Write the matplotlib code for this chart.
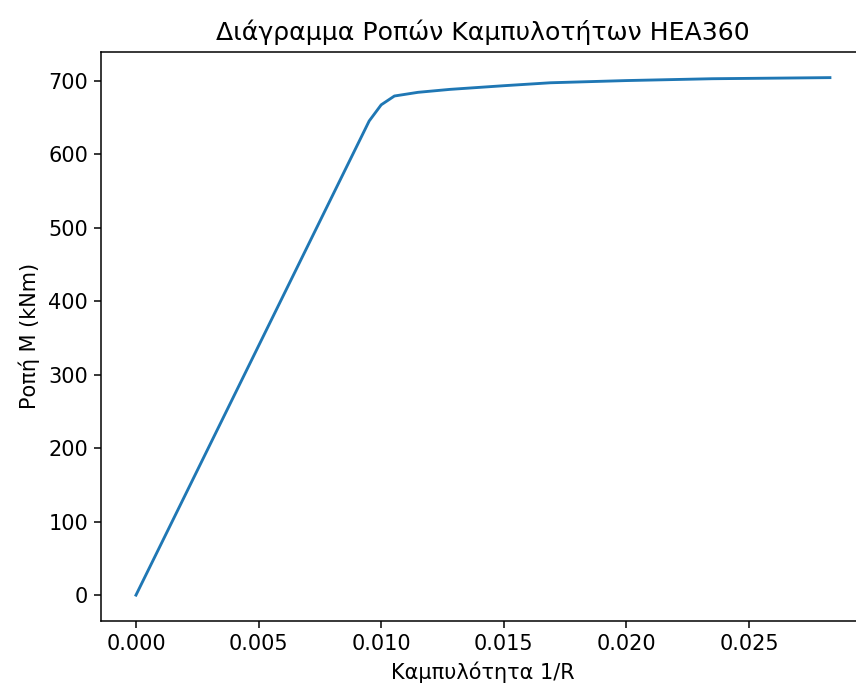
import matplotlib
matplotlib.use("Agg")
import matplotlib.pyplot as plt

# moment-curvature curve for HEA360
curvature = [0.0, 0.00951, 0.0100, 0.01054, 0.0115, 0.0128, 0.0150,
             0.0169, 0.0200, 0.0235, 0.0283]
moment = [0.0, 645.0, 667.0, 679.0, 684.0, 688.0, 693.0,
          697.0, 700.0, 702.5, 704.0]

plt.rcParams["font.size"] = 11

DPI = 137
fig = plt.figure(figsize=(856 / DPI, 690 / DPI), dpi=DPI)
ax = fig.add_axes([0.1183, 0.1000, 0.8918, 0.8250])

ax.plot(curvature, moment)
ax.set_title("Διάγραμμα Ροπών Καμπυλοτήτων HEA360")
ax.set_xlabel("Καμπυλότητα 1/R")
ax.set_ylabel("Ροπή M (kNm)")

fig.savefig("out.png", dpi=DPI)
plt.close(fig)
